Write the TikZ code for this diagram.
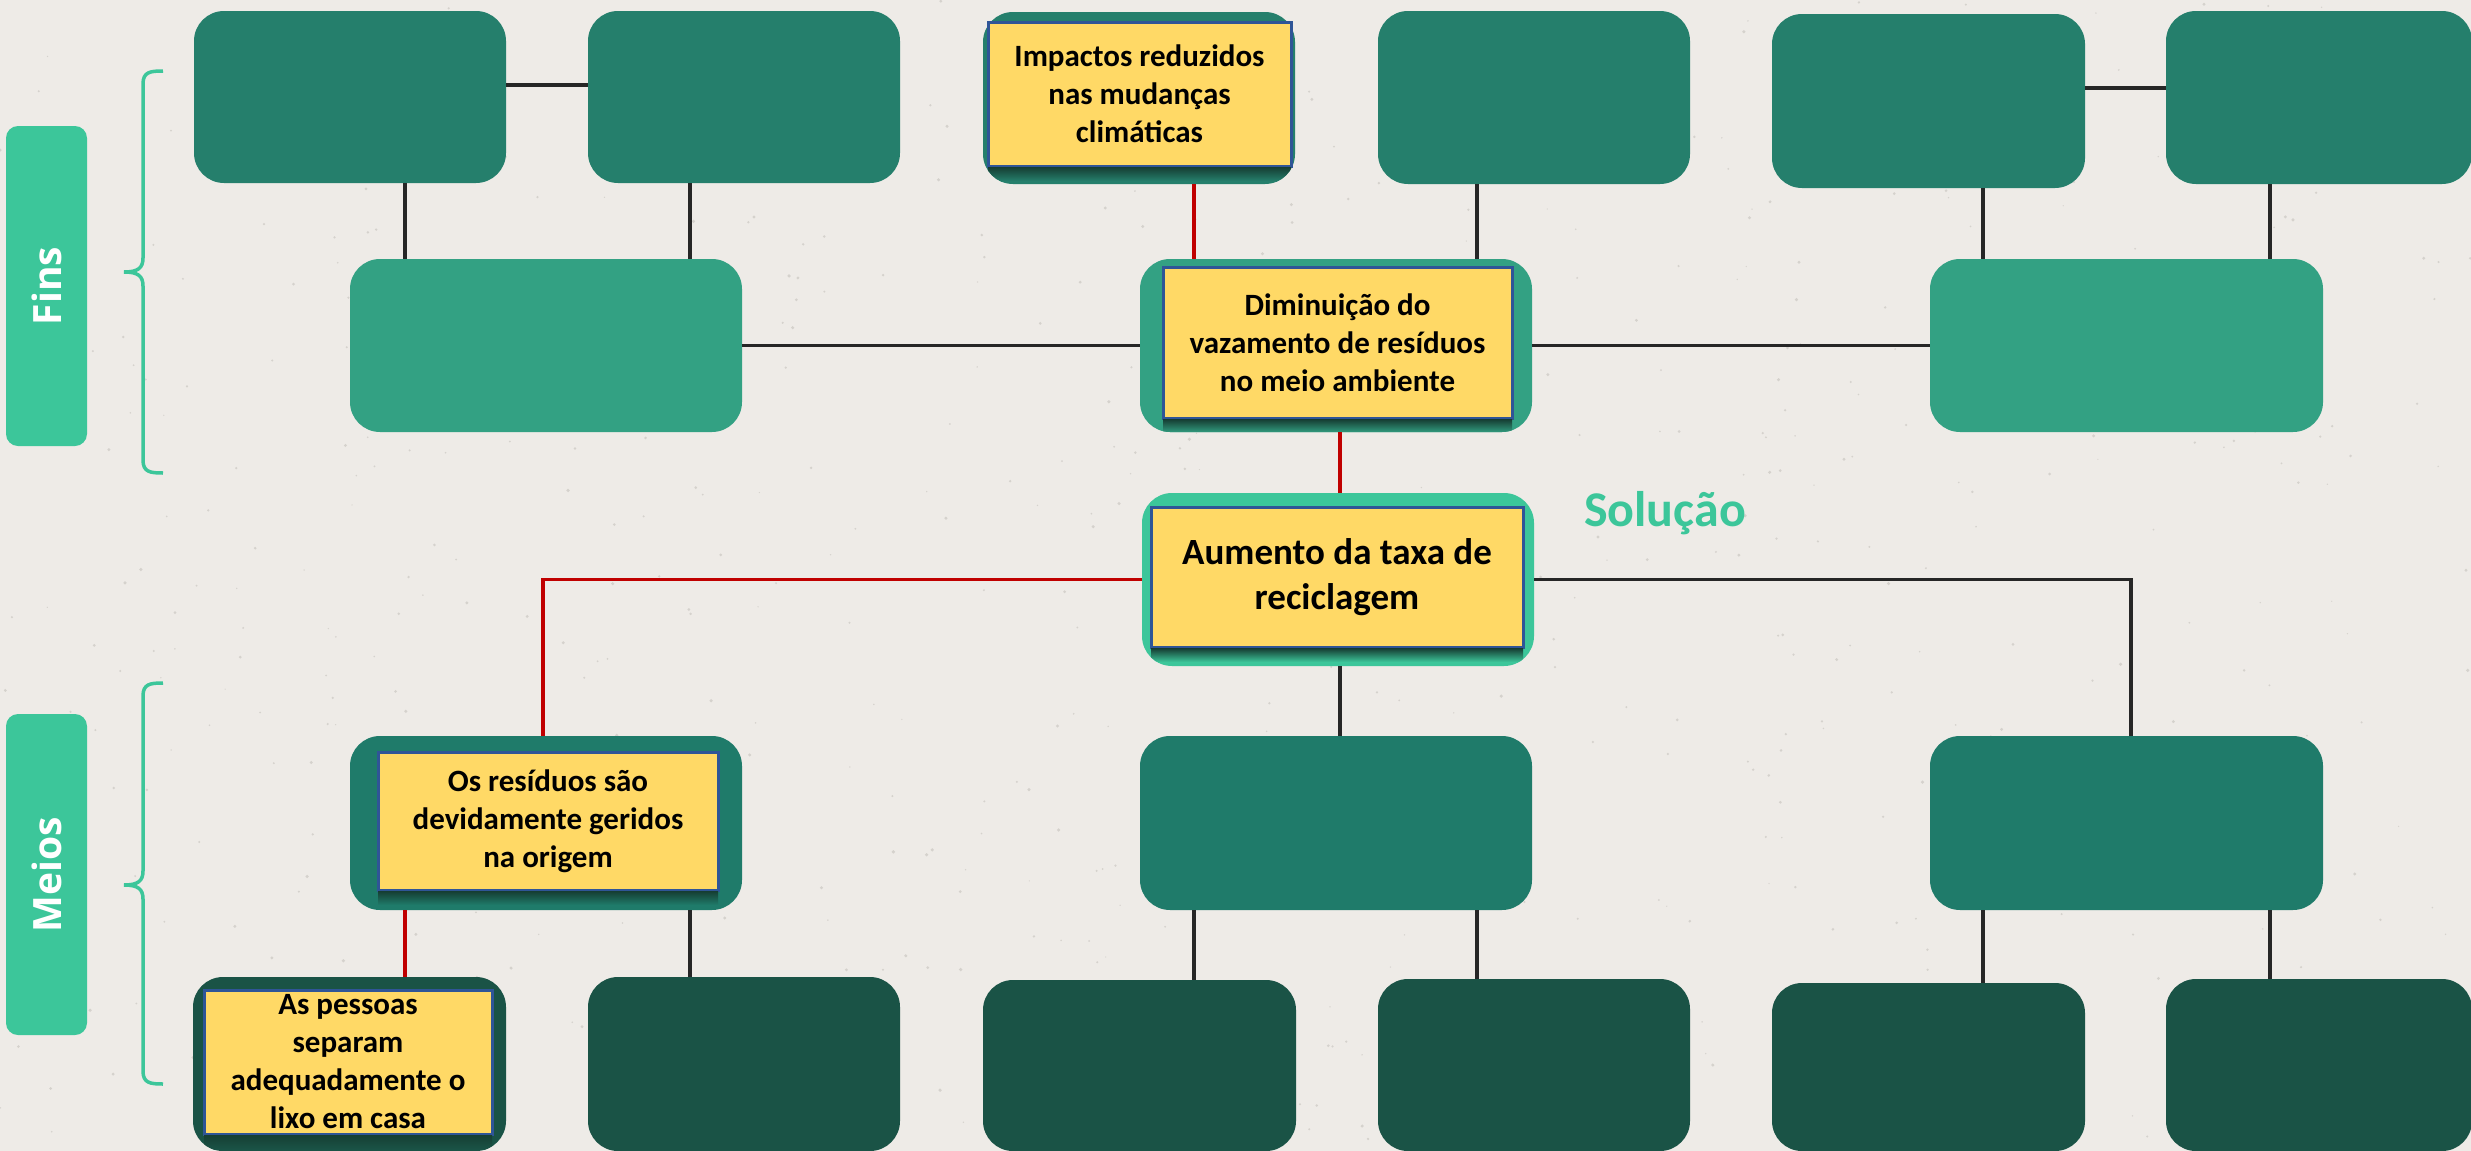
\documentclass[tikz,border=0pt]{standalone}
\usepackage{fontspec}
\setmainfont{Carlito}
\newfontfamily\labfont{Open Sans}
\usetikzlibrary{calc}
\definecolor{bgc}{HTML}{EEEBE7}
\definecolor{topg}{HTML}{257F6C}
\definecolor{midg}{HTML}{33A183}
\definecolor{solg}{HTML}{3CC69A}
\definecolor{meg}{HTML}{1F7B6A}
\definecolor{botg}{HTML}{1A5346}
\definecolor{yel}{HTML}{FFD966}
\definecolor{yelb}{HTML}{2F5597}
\definecolor{linec}{HTML}{262626}
\definecolor{redc}{HTML}{C00000}
\definecolor{shadc}{HTML}{163F34}
\definecolor{speck}{HTML}{A8A49E}
\tikzset{
  box/.style={rounded corners=30pt, inner sep=0pt, outer sep=0pt, draw=none},
  ybox/.style={fill=yel, draw=yelb, line width=3pt, align=center, inner sep=0pt, outer sep=0pt,
    text=black, font=\fontsize{31}{38}\selectfont\bfseries},
  conn/.style={draw=linec, line width=3.5pt},
  rconn/.style={draw=redc, line width=3.5pt},
  bracec/.style={draw=solg, line width=3.5pt},
  lab/.style={fill=solg, rounded corners=12pt, inner sep=0pt, text=white, rotate=90,
    font=\labfont\fontsize{39}{46}\selectfont\bfseries}
}
\newcommand\mkshadow[3]{%
  \begin{scope}
    \clip[rounded corners=30pt] (#2.south west) rectangle (#2.north east);
    \shade[top color=shadc, bottom color=#3] ([yshift=-1.5pt]#1.south west) rectangle ([yshift=-15pt]#1.south east);
  \end{scope}}
\begin{document}
\begin{tikzpicture}[x=1pt,y=-1pt]
\useasboundingbox (0,0) rectangle (2471,1151);
\fill[bgc] (0,0) rectangle (2471,1151);
\pgfmathsetseed{7}
\foreach \i in {1,...,700}{
  \pgfmathsetmacro{\px}{rnd*2471}
  \pgfmathsetmacro{\py}{rnd*1151}
  \pgfmathsetmacro{\pr}{0.6+rnd*1.2}
  \fill[speck, opacity=0.35] (\px,\py) circle[radius=\pr pt];
}

% labels
\node[lab, minimum width=320pt, minimum height=81pt] (fins) at (46.5,286) {Fins};
\node[lab, minimum width=321pt, minimum height=81pt] (meios) at (46.5,874.5) {Meios};
\draw[bracec] (163,71) .. controls (150,71) and (143,72) .. (143,84) -- (143,258)
  .. controls (143,268) and (138,272) .. (124,272)
  .. controls (138,272) and (143,276) .. (143,286) -- (143,460)
  .. controls (143,472) and (150,473) .. (163,473);
\draw[bracec] (163,683) .. controls (150,683) and (143,684) .. (143,696) -- (143,871)
  .. controls (143,881) and (138,885) .. (124,885)
  .. controls (138,885) and (143,889) .. (143,899) -- (143,1071)
  .. controls (143,1083) and (150,1084) .. (163,1084);

% top row
\node[box, fill=topg, minimum width=312pt, minimum height=172pt] (T1) at (350,97) {};
\node[box, fill=topg, minimum width=312pt, minimum height=172pt] (T2) at (744,97) {};
\node[box, fill=topg, minimum width=312pt, minimum height=172pt] (T3) at (1139,98) {};
\node[box, fill=topg, minimum width=312pt, minimum height=173pt] (T4) at (1534,97.5) {};
\node[box, fill=topg, minimum width=313pt, minimum height=174pt] (T5) at (1928.5,101) {};
\node[box, fill=topg, minimum width=306pt, minimum height=173pt] (T6) at (2319,97.5) {};

% second row (fins)
\node[box, fill=midg, minimum width=392pt, minimum height=173pt] (M1) at (546,345.5) {};
\node[box, fill=midg, minimum width=392pt, minimum height=173pt] (M2) at (1336,345.5) {};
\node[box, fill=midg, minimum width=393pt, minimum height=173pt] (M3) at (2126.5,345.5) {};

% solution
\node[box, fill=solg, minimum width=392pt, minimum height=173pt] (S) at (1338,579.5) {};
\node[font=\fontsize{50}{60}\selectfont\bfseries, text=solg] (sol) at (1665,513) {Solução};

% meios row 1
\node[box, fill=meg, minimum width=392pt, minimum height=174pt] (L1) at (546,823) {};
\node[box, fill=meg, minimum width=392pt, minimum height=174pt] (C1) at (1336,823) {};
\node[box, fill=meg, minimum width=393pt, minimum height=174pt] (R1) at (2126.5,823) {};

% bottom row
\node[box, fill=botg, minimum width=313pt, minimum height=174pt] (B1) at (349.5,1064) {};
\node[box, fill=botg, minimum width=312pt, minimum height=174pt] (B2) at (744,1064) {};
\node[box, fill=botg, minimum width=313pt, minimum height=171pt] (B3) at (1139.5,1065.5) {};
\node[box, fill=botg, minimum width=312pt, minimum height=172pt] (B4) at (1534,1065) {};
\node[box, fill=botg, minimum width=313pt, minimum height=168pt] (B5) at (1928.5,1067) {};
\node[box, fill=botg, minimum width=306pt, minimum height=172pt] (B6) at (2319,1065) {};

% yellow boxes
\node[ybox, minimum width=303pt, minimum height=144pt] (Y3) at (1139.5,94) {Impactos reduzidos\\nas mudanças\\climáticas};
\node[ybox, minimum width=349pt, minimum height=151pt] (YM) at (1337.5,342.5) {Diminuição do\\vazamento de resíduos\\no meio ambiente};
\node[ybox, minimum width=372pt, minimum height=140pt, font=\fontsize{37}{45}\selectfont\bfseries] (YS) at (1337,577) {Aumento da taxa de\\reciclagem};
\node[ybox, minimum width=340pt, minimum height=138pt] (YL) at (548,821) {Os resíduos são\\devidamente geridos\\na origem};
\node[ybox, minimum width=288pt, minimum height=144pt] (YB) at (348,1062) {As pessoas\\separam\\adequadamente o\\lixo em casa};

\mkshadow{Y3}{T3}{topg}
\mkshadow{YM}{M2}{midg}
\mkshadow{YS}{S}{solg}
\mkshadow{YL}{L1}{meg}
\mkshadow{YB}{B1}{botg}

% connectors fins
\draw[conn] ([yshift=12pt]T1.east) -- ([yshift=12pt]T1.east -| T2.west);
\draw[conn] ([yshift=13pt]T5.east) -- ([yshift=13pt]T5.east -| T6.west);
\draw[conn] ([xshift=55pt]T1.south) -- ([xshift=55pt]T1.south |- M1.north);
\draw[conn] ([xshift=-54pt]T2.south) -- ([xshift=-54pt]T2.south |- M1.north);
\draw[rconn] ([xshift=55pt]T3.south) -- ([xshift=55pt]T3.south |- M2.north);
\draw[conn] ([xshift=-57pt]T4.south) -- ([xshift=-57pt]T4.south |- M2.north);
\draw[conn] ([xshift=54.5pt]T5.south) -- ([xshift=54.5pt]T5.south |- M3.north);
\draw[conn] ([xshift=-49pt]T6.south) -- ([xshift=-49pt]T6.south |- M3.north);
\draw[conn] (M1.east) -- (M2.west);
\draw[conn] (M2.east) -- (M3.west);
\draw[rconn] ([xshift=4pt]M2.south) -- ([xshift=4pt]M2.south |- S.north);

% connectors meios
\draw[rconn] (S.west) -| ([xshift=-3pt]L1.north);
\draw[conn] (S.east) -| ([xshift=4.5pt]R1.north);
\draw[conn] ([xshift=2pt]S.south) -- ([xshift=2pt]S.south |- C1.north);
\draw[rconn] ([xshift=-141pt]L1.south) -- ([xshift=-141pt]L1.south |- B1.north);
\draw[conn] ([xshift=144pt]L1.south) -- ([xshift=144pt]L1.south |- B2.north);
\draw[conn] ([xshift=-142pt]C1.south) -- ([xshift=-142pt]C1.south |- B3.north);
\draw[conn] ([xshift=141pt]C1.south) -- ([xshift=141pt]C1.south |- B4.north);
\draw[conn] ([xshift=-143.5pt]R1.south) -- ([xshift=-143.5pt]R1.south |- B5.north);
\draw[conn] ([xshift=143.5pt]R1.south) -- ([xshift=143.5pt]R1.south |- B6.north);
\end{tikzpicture}
\end{document}
